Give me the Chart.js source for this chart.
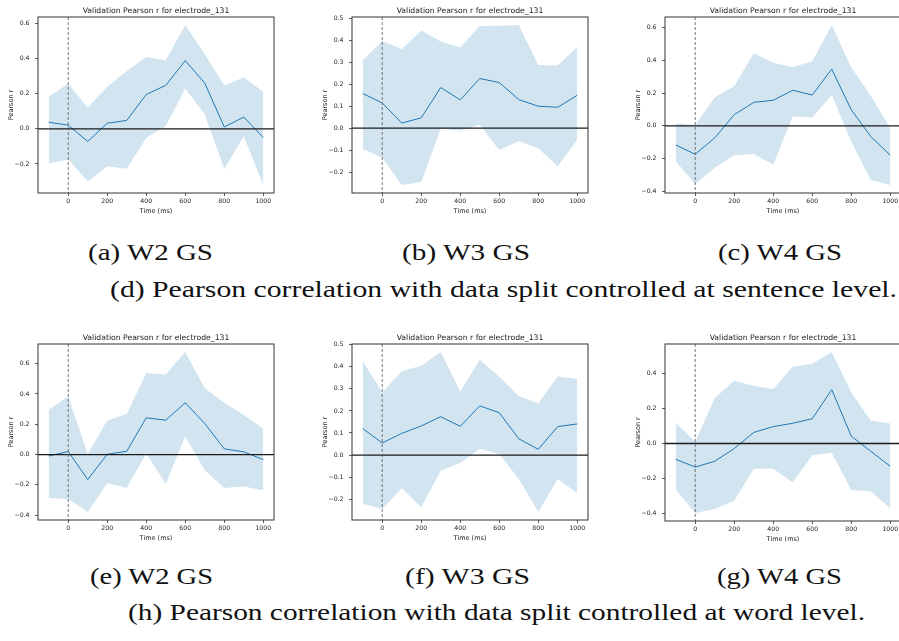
<!DOCTYPE html>
<html>
<head>
<meta charset="utf-8">
<script src="https://cdn.jsdelivr.net/npm/chart.js@4.4.1/dist/chart.umd.min.js"></script>
<style>
  html, body { margin: 0; padding: 0; background: #fff; }
  body { width: 899px; height: 641px; position: relative; overflow: hidden; }
  canvas { position: absolute; }
  .cap { position: absolute; font-family: "Liberation Serif", serif; font-size: 24px; line-height: 24px; color: #111; white-space: nowrap; transform-origin: 0 50%; }
</style>
</head>
<body>
<canvas id="cA" width="300" height="225" style="left:0px;top:0px"></canvas>
<canvas id="cB" width="300" height="225" style="left:300px;top:0px"></canvas>
<canvas id="cC" width="310" height="225" style="left:600px;top:0px"></canvas>
<canvas id="cE" width="300" height="225" style="left:0px;top:325px"></canvas>
<canvas id="cF" width="300" height="225" style="left:300px;top:325px"></canvas>
<canvas id="cG" width="310" height="225" style="left:600px;top:325px"></canvas>

<div class="cap" data-w="125" style="left:88px;top:240px">(a) W2 GS</div>
<div class="cap" data-w="128" style="left:402px;top:240px">(b) W3 GS</div>
<div class="cap" data-w="124" style="left:718px;top:240px">(c) W4 GS</div>
<div class="cap" data-w="787" style="left:110px;top:277px">(d) Pearson correlation with data split controlled at sentence level.</div>
<div class="cap" data-w="123" style="left:90px;top:564px">(e) W2 GS</div>
<div class="cap" data-w="125" style="left:405px;top:564px">(f) W3 GS</div>
<div class="cap" data-w="125" style="left:717px;top:564px">(g) W4 GS</div>
<div class="cap" data-w="737" style="left:128px;top:600px">(h) Pearson correlation with data split controlled at word level.</div>

<script>
// 시간축 (ms)
const times = [-100, 0, 100, 200, 300, 400, 500, 600, 700, 800, 900, 1000];
const xTicks = [0, 200, 400, 600, 800, 1000];

// (a) W2 GS - sentence level
const meanA  = [0.038, 0.021, -0.072, 0.032, 0.048, 0.196, 0.248, 0.389, 0.261, 0.011, 0.067, -0.050];
const upperA = [0.183, 0.259, 0.120, 0.240, 0.330, 0.410, 0.390, 0.592, 0.425, 0.248, 0.293, 0.211];
const lowerA = [-0.198, -0.175, -0.300, -0.213, -0.227, -0.050, 0.015, 0.230, 0.082, -0.229, -0.042, -0.320];
const yTicksA = [-0.2, 0, 0.2, 0.4, 0.6];

// (b) W3 GS - sentence level
const meanB  = [0.158, 0.115, 0.023, 0.047, 0.185, 0.129, 0.226, 0.208, 0.130, 0.100, 0.095, 0.150];
const upperB = [0.308, 0.398, 0.359, 0.445, 0.395, 0.368, 0.465, 0.467, 0.470, 0.288, 0.286, 0.371];
const lowerB = [-0.094, -0.135, -0.259, -0.245, -0.003, -0.012, 0.015, -0.100, -0.059, -0.092, -0.174, -0.053];
const yTicksB = [-0.2, -0.1, 0, 0.1, 0.2, 0.3, 0.4, 0.5];

// (c) W4 GS - sentence level
const meanC  = [-0.117, -0.174, -0.074, 0.068, 0.143, 0.156, 0.217, 0.188, 0.346, 0.098, -0.066, -0.180];
const upperC = [0.016, 0.005, 0.174, 0.242, 0.444, 0.385, 0.358, 0.395, 0.616, 0.356, 0.184, -0.014];
const lowerC = [-0.217, -0.358, -0.256, -0.180, -0.172, -0.237, 0.057, 0.051, 0.190, -0.098, -0.332, -0.362];
const yTicksC = [-0.4, -0.2, 0, 0.2, 0.4, 0.6];

// (e) W2 GS - word level
const meanE  = [-0.009, 0.020, -0.165, 0.002, 0.022, 0.243, 0.227, 0.342, 0.205, 0.038, 0.018, -0.033];
const upperE = [0.296, 0.384, 0.004, 0.225, 0.267, 0.538, 0.529, 0.677, 0.437, 0.342, 0.262, 0.172];
const lowerE = [-0.287, -0.293, -0.379, -0.190, -0.220, 0.009, -0.194, 0.121, -0.104, -0.220, -0.210, -0.236];
const yTicksE = [-0.4, -0.2, 0, 0.2, 0.4, 0.6];

// (f) W3 GS - word level
const meanF  = [0.120, 0.055, 0.098, 0.132, 0.174, 0.130, 0.223, 0.192, 0.074, 0.026, 0.129, 0.141];
const upperF = [0.426, 0.283, 0.380, 0.405, 0.467, 0.288, 0.432, 0.355, 0.268, 0.235, 0.356, 0.345];
const lowerF = [-0.220, -0.245, -0.150, -0.236, -0.071, -0.036, 0.029, 0.005, -0.108, -0.258, -0.108, -0.173];
const yTicksF = [-0.2, -0.1, 0, 0.1, 0.2, 0.3, 0.4, 0.5];

// (g) W4 GS - word level
const meanG  = [-0.090, -0.134, -0.101, -0.029, 0.063, 0.096, 0.115, 0.141, 0.306, 0.042, -0.044, -0.130];
const upperG = [0.118, 0.010, 0.258, 0.357, 0.327, 0.310, 0.436, 0.453, 0.520, 0.290, 0.130, 0.113];
const lowerG = [-0.262, -0.395, -0.372, -0.325, -0.143, -0.143, -0.222, -0.067, -0.053, -0.264, -0.271, -0.369];
const yTicksG = [-0.4, -0.2, 0, 0.2, 0.4];

const panelTitle = 'Validation Pearson r for electrode_131';
const textColor = '#222';

// 각 패널의 플롯영역 (캔버스 기준 px)
const panels = [
	{ id: 'cA', mean: meanA, upper: upperA, lower: lowerA, yTicks: yTicksA, box: { l: 38, r: 274, t: 17, b: 193 } },
	{ id: 'cB', mean: meanB, upper: upperB, lower: lowerB, yTicks: yTicksB, box: { l: 52, r: 288, t: 17, b: 193 } },
	{ id: 'cC', mean: meanC, upper: upperC, lower: lowerC, yTicks: yTicksC, box: { l: 65, r: 301, t: 17, b: 193 } },
	{ id: 'cE', mean: meanE, upper: upperE, lower: lowerE, yTicks: yTicksE, box: { l: 38, r: 274, t: 19, b: 195 } },
	{ id: 'cF', mean: meanF, upper: upperF, lower: lowerF, yTicks: yTicksF, box: { l: 52, r: 288, t: 19, b: 195 } },
	{ id: 'cG', mean: meanG, upper: upperG, lower: lowerG, yTicks: yTicksG, box: { l: 65, r: 301, t: 19, b: 196 } }
];

// 테두리, 0 기준선, 0ms 점선, 제목
const framePlugin = {
	id: 'frame',
	afterDatasetsDraw(chart) {
		const { ctx, chartArea: { left, right, top, bottom }, scales: { x, y } } = chart;
		ctx.save();
		const y0 = y.getPixelForValue(0);
		ctx.strokeStyle = '#1a1a1a';
		ctx.lineWidth = 1.3;
		ctx.beginPath();
		ctx.moveTo(left, y0);
		ctx.lineTo(right, y0);
		ctx.stroke();

		const x0 = x.getPixelForValue(0);
		ctx.strokeStyle = '#555';
		ctx.lineWidth = 0.8;
		ctx.setLineDash([3, 2]);
		ctx.beginPath();
		ctx.moveTo(x0, top);
		ctx.lineTo(x0, bottom);
		ctx.stroke();
		ctx.setLineDash([]);

		ctx.strokeStyle = '#333';
		ctx.lineWidth = 1;
		ctx.strokeRect(left, top, right - left, bottom - top);

		ctx.fillStyle = textColor;
		ctx.font = '7.7px "DejaVu Sans"';
		ctx.textAlign = 'center';
		ctx.textBaseline = 'middle';
		ctx.fillText(panelTitle, (left + right) / 2, top - 6);
		ctx.restore();
	}
};

function fmt(v) {
	return v.toFixed(1).replace('-', '\u2212');
}

function makePanel(p) {
	const canvas = document.getElementById(p.id);
	const W = canvas.width, H = canvas.height;
	const lo = Math.min(...p.lower), hi = Math.max(...p.upper);
	const ym = (hi - lo) * 0.05;
	const xm = (times[times.length - 1] - times[0]) * 0.05;
	const labelFont = { family: 'DejaVu Sans', size: 6.5 };

	new Chart(canvas, {
		type: 'line',
		data: {
			datasets: [
				{ data: times.map((t, i) => ({ x: t, y: p.lower[i] })), borderWidth: 0, pointRadius: 0, fill: false },
				{ data: times.map((t, i) => ({ x: t, y: p.upper[i] })), borderWidth: 0, pointRadius: 0, fill: '-1', backgroundColor: 'rgba(31, 119, 180, 0.2)' },
				{ data: times.map((t, i) => ({ x: t, y: p.mean[i] })), borderColor: '#1f77b4', borderWidth: 1, pointRadius: 0, fill: false }
			]
		},
		options: {
			responsive: false,
			animation: false,
			devicePixelRatio: 1,
			layout: { padding: { top: p.box.t, right: W - p.box.r, left: 0, bottom: 0 } },
			plugins: { legend: { display: false }, tooltip: { enabled: false }, title: { display: false } },
			scales: {
				x: {
					type: 'linear',
					min: times[0] - xm,
					max: times[times.length - 1] + xm,
					afterFit(s) { s.height = H - p.box.b; },
					afterBuildTicks(s) { s.ticks = xTicks.map(v => ({ value: v })); },
					grid: { drawOnChartArea: false, drawTicks: true, tickLength: 3, color: '#333', lineWidth: 0.8 },
					border: { display: false },
					ticks: { padding: 2, maxRotation: 0, autoSkip: false, color: textColor, font: { family: 'DejaVu Sans', size: 6.2 }, callback: v => String(v) },
					title: { display: true, text: 'Time (ms)', color: textColor, font: labelFont, padding: { top: 0, bottom: H - p.box.b - 18 - 3.9 } }
				},
				y: {
					min: lo - ym,
					max: hi + ym,
					afterFit(s) { s.width = p.box.l; },
					afterBuildTicks(s) { s.ticks = p.yTicks.map(v => ({ value: v })); },
					grid: { drawOnChartArea: false, drawTicks: true, tickLength: 3, color: '#333', lineWidth: 0.8 },
					border: { display: false },
					ticks: { padding: 5.5, autoSkip: false, color: textColor, font: { family: 'DejaVu Sans', size: 6.2 }, callback: v => fmt(v) },
					title: { display: true, text: 'Pearson r', color: textColor, font: labelFont, padding: { top: p.box.l - 27 - 3.9, bottom: 0 } }
				}
			}
		},
		plugins: [framePlugin]
	});
}

panels.forEach(makePanel);

// 캡션 폭 맞추기
document.querySelectorAll('.cap').forEach(el => {
	const target = parseFloat(el.dataset.w);
	const w = el.getBoundingClientRect().width;
	el.style.transform = 'scaleX(' + (target / w) + ')';
});
</script>
</body>
</html>
